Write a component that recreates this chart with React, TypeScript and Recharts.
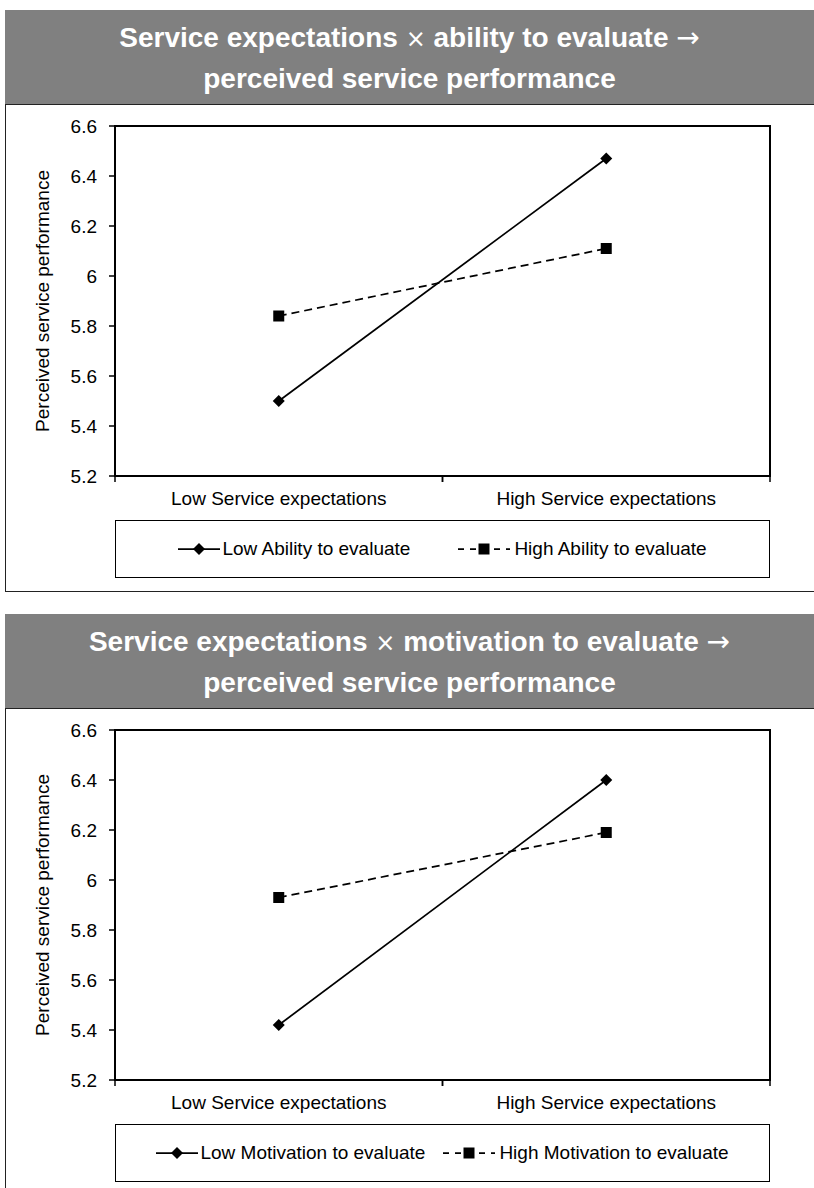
import React from 'react';
import { LineChart, Line, XAxis, YAxis, ReferenceArea, Legend } from 'recharts';

const categories = ['Low Service expectations', 'High Service expectations'];
const yTicks = [5.2, 5.4, 5.6, 5.8, 6, 6.2, 6.4, 6.6];

const lowAbility = [5.5, 6.47];
const highAbility = [5.84, 6.11];
const lowMotivation = [5.42, 6.4];
const highMotivation = [5.93, 6.19];

const FONT = '"Liberation Sans", Arial, sans-serif';

const Diamond = ({ cx, cy }: any) => {
  if (cx == null || cy == null) return null;
  return <path d={`M${cx},${cy - 6}L${cx + 6},${cy}L${cx},${cy + 6}L${cx - 6},${cy}Z`} fill="#000" />;
};

const Square = ({ cx, cy }: any) => {
  if (cx == null || cy == null) return null;
  return <rect x={cx - 5.5} y={cy - 5.5} width={11} height={11} fill="#000" />;
};

// category label centred in its band, tick marks on the band edges
const CategoryTick = ({ x, y, payload }: any) => {
  const half = payload?.offset ?? 0;
  return (
    <g>
      <line x1={x - half} y1={y} x2={x - half} y2={y + 6} stroke="#000" strokeWidth={1.5} />
      <line x1={x + half} y1={y} x2={x + half} y2={y + 6} stroke="#000" strokeWidth={1.5} />
      <text x={x} y={y + 16} dy="0.71em" textAnchor="middle" fill="#000" fontSize={19} fontFamily={FONT}>
        {payload.value}
      </text>
    </g>
  );
};

function LegendBox({ lowName, highName, gap }: any) {
  return (
    <div
      style={{
        marginLeft: 115,
        width: 655,
        height: 58,
        boxSizing: 'border-box',
        border: '1px solid #000',
        display: 'flex',
        alignItems: 'center',
        justifyContent: 'center',
        fontFamily: FONT,
        fontSize: 19,
        color: '#000',
        whiteSpace: 'nowrap',
      }}
    >
      <svg width={42} height={14}>
        <line x1={0} y1={7} x2={42} y2={7} stroke="#000" strokeWidth={1.75} />
        <path d="M21,1L27,7L21,13L15,7Z" fill="#000" />
      </svg>
      <span style={{ marginLeft: 2 }}>{lowName}</span>
      <svg width={52} height={14} style={{ marginLeft: gap }}>
        <line x1={0} y1={7} x2={52} y2={7} stroke="#000" strokeWidth={1.75} strokeDasharray="6 6" />
        <rect x={20.5} y={1.5} width={11} height={11} fill="#000" />
      </svg>
      <span style={{ marginLeft: 4 }}>{highName}</span>
    </div>
  );
}

function Panel({ top, topic, lowName, highName, low, high, gap }: any) {
  const data = categories.map((name, i) => ({ name, low: low[i], high: high[i] }));
  return (
    <>
      <div
        style={{
          position: 'absolute',
          left: 5,
          top,
          width: 820,
          height: 94,
          background: '#808080',
          color: '#fff',
          fontFamily: FONT,
          fontWeight: 'bold',
          fontSize: 28,
          lineHeight: '40px',
          boxSizing: 'border-box',
          paddingTop: 8,
        }}
      >
        <div style={{ width: 809, textAlign: 'center' }}>
          Service expectations{' '}
          <span style={{ fontWeight: 'normal', fontFamily: '"DejaVu Sans", sans-serif', fontSize: 24 }}>×</span>{' '}
          {topic} to evaluate{' '}
          <span style={{ fontWeight: 'normal', fontFamily: '"DejaVu Sans", sans-serif', fontSize: 28 }}>→</span>
        </div>
        <div style={{ width: 809, textAlign: 'center' }}>perceived service performance</div>
      </div>
      <div
        style={{
          position: 'absolute',
          left: 5,
          top: top + 94,
          width: 820,
          height: 488,
          border: '1px solid #222',
          boxSizing: 'border-box',
        }}
      />
      <div style={{ position: 'absolute', left: 0, top: top + 100, width: 814, height: 470 }}>
        <LineChart width={814} height={470} data={data} margin={{ top: 16, right: 44, bottom: 2, left: 0 }}>
          <XAxis
            dataKey="name"
            scale="band"
            height={44}
            axisLine={{ stroke: '#000', strokeWidth: 2 }}
            tickLine={false}
            tickSize={0}
            tickMargin={0}
            interval={0}
            tick={<CategoryTick />}
          />
          <YAxis
            domain={[5.2, 6.6]}
            ticks={yTicks}
            width={115}
            tickSize={6}
            tickMargin={12}
            interval={0}
            axisLine={{ stroke: '#000', strokeWidth: 2 }}
            tickLine={{ stroke: '#000', strokeWidth: 1.5 }}
            tick={{ fill: '#000', fontSize: 19, fontFamily: FONT }}
            label={{
              value: 'Perceived service performance',
              angle: -90,
              position: 'insideLeft',
              offset: 42,
              style: { textAnchor: 'middle', fontSize: 19, fill: '#000', fontFamily: FONT },
            }}
          />
          <ReferenceArea
            x1={categories[0]}
            x2={categories[categories.length - 1]}
            y1={5.2}
            y2={6.6}
            fill="none"
            fillOpacity={0}
            stroke="#000"
            strokeWidth={2}
            ifOverflow="visible"
          />
          <Line
            dataKey="low"
            name={lowName}
            stroke="#000"
            strokeWidth={1.75}
            dot={<Diamond />}
            activeDot={false}
            isAnimationActive={false}
          />
          <Line
            dataKey="high"
            name={highName}
            stroke="#000"
            strokeWidth={1.75}
            strokeDasharray="8 5"
            dot={<Square />}
            activeDot={false}
            isAnimationActive={false}
          />
          <Legend
            verticalAlign="bottom"
            content={() => <LegendBox lowName={lowName} highName={highName} gap={gap} />}
          />
        </LineChart>
      </div>
    </>
  );
}

export default function App() {
  return (
    <div style={{ position: 'absolute', left: 0, top: 0, width: 814, height: 1188, overflow: 'hidden', background: '#fff' }}>
      <Panel
        top={10}
        topic="ability"
        lowName="Low Ability to evaluate"
        highName="High Ability to evaluate"
        low={lowAbility}
        high={highAbility}
        gap={48}
      />
      <Panel
        top={614}
        topic="motivation"
        lowName="Low Motivation to evaluate"
        highName="High Motivation to evaluate"
        low={lowMotivation}
        high={highMotivation}
        gap={18}
      />
    </div>
  );
}
